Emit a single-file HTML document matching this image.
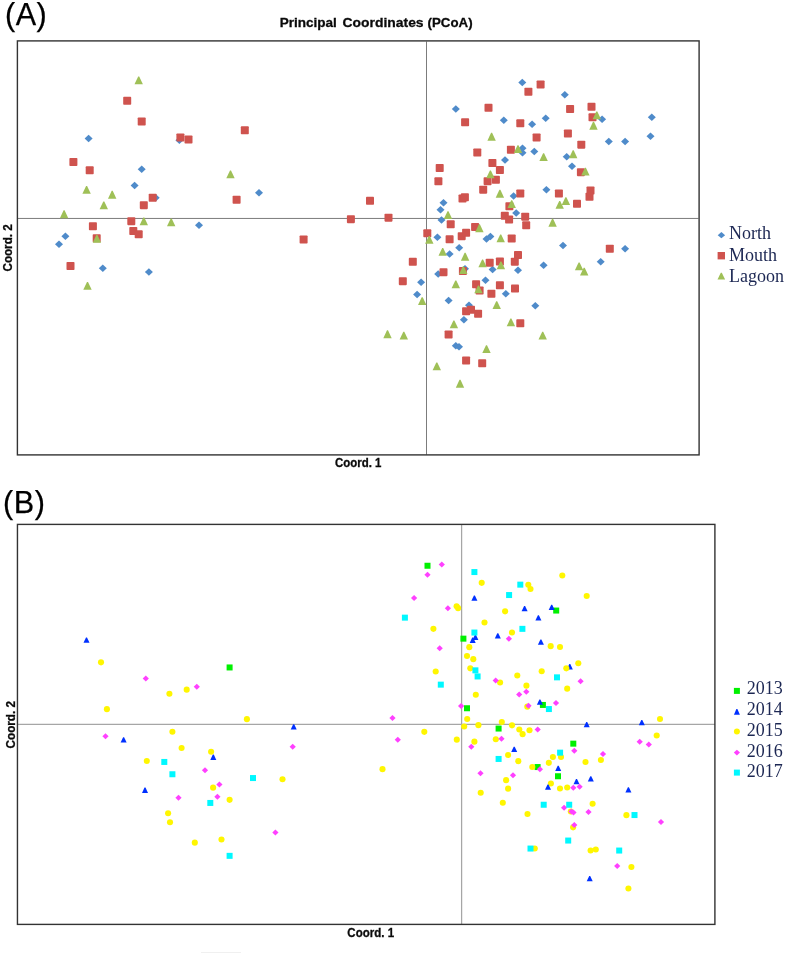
<!DOCTYPE html>
<html><head><meta charset="utf-8"><title>Principal Coordinates (PCoA)</title>
<style>
html,body{margin:0;padding:0;background:#fff;}
body{width:786px;height:955px;overflow:hidden;}
svg{display:block;}
.lab{font-family:"Liberation Sans",sans-serif;fill:#000;stroke:#000;stroke-width:0.25px;}
.b{font-family:"Liberation Sans",sans-serif;font-weight:bold;fill:#0a0a0a;stroke:#0a0a0a;stroke-width:0.3px;}
.leg{font-family:"Liberation Serif",serif;font-size:18px;fill:#1c2753;}
</style></head><body>
<svg width="786" height="955" viewBox="0 0 786 955">
<rect width="786" height="955" fill="#fff"/>
<text class="lab" x="5" y="24.8" font-size="30.6" letter-spacing="0.5">(A)</text>
<text class="b" y="27.3" font-size="13.6"><tspan x="279.7" textLength="57.2" lengthAdjust="spacingAndGlyphs">Principal</tspan> <tspan x="342.6" textLength="81" lengthAdjust="spacingAndGlyphs">Coordinates</tspan> <tspan x="427.6" textLength="45" lengthAdjust="spacingAndGlyphs">(PCoA)</tspan></text>
<line x1="18" x2="698.5" y1="218.45" y2="218.45" stroke="#7c7c7c" stroke-width="1"/>
<line x1="426.5" x2="426.5" y1="41.5" y2="454.7" stroke="#7c7c7c" stroke-width="1"/>
<g><path fill="#4f8bca" d="M84.6 138.55L88.6 134.8L92.6 138.55L88.6 142.3z"/><path fill="#4f8bca" d="M175.4 140.25L179.4 136.5L183.4 140.25L179.4 144z"/><path fill="#4f8bca" d="M137.7 169.25L141.7 165.5L145.7 169.25L141.7 173z"/><path fill="#4f8bca" d="M130.6 185.55L134.6 181.8L138.6 185.55L134.6 189.3z"/><path fill="#4f8bca" d="M151.7 197.75L155.7 194L159.7 197.75L155.7 201.5z"/><path fill="#4f8bca" d="M195 225.25L199 221.5L203 225.25L199 229z"/><path fill="#4f8bca" d="M61.4 236.15L65.4 232.4L69.4 236.15L65.4 239.9z"/><path fill="#4f8bca" d="M55 244.25L59 240.5L63 244.25L59 248z"/><path fill="#4f8bca" d="M98.8 268.25L102.8 264.5L106.8 268.25L102.8 272z"/><path fill="#4f8bca" d="M144.9 272.05L148.9 268.3L152.9 272.05L148.9 275.8z"/><path fill="#4f8bca" d="M255 192.65L259 188.9L263 192.65L259 196.4z"/><path fill="#4f8bca" d="M518.3 82.55L522.3 78.8L526.3 82.55L522.3 86.3z"/><path fill="#4f8bca" d="M451.8 109.05L455.8 105.3L459.8 109.05L455.8 112.8z"/><path fill="#4f8bca" d="M499.8 120.25L503.8 116.5L507.8 120.25L503.8 124z"/><path fill="#4f8bca" d="M528.1 124.15L532.1 120.4L536.1 124.15L532.1 127.9z"/><path fill="#4f8bca" d="M541.7 118.15L545.7 114.4L549.7 118.15L545.7 121.9z"/><path fill="#4f8bca" d="M518.5 148.35L522.5 144.6L526.5 148.35L522.5 152.1z"/><path fill="#4f8bca" d="M518.5 152.85L522.5 149.1L526.5 152.85L522.5 156.6z"/><path fill="#4f8bca" d="M530.3 151.55L534.3 147.8L538.3 151.55L534.3 155.3z"/><path fill="#4f8bca" d="M501 159.95L505 156.2L509 159.95L505 163.7z"/><path fill="#4f8bca" d="M509.6 195.95L513.6 192.2L517.6 195.95L513.6 199.7z"/><path fill="#4f8bca" d="M542.4 189.65L546.4 185.9L550.4 189.65L546.4 193.4z"/><path fill="#4f8bca" d="M439.5 202.65L443.5 198.9L447.5 202.65L443.5 206.4z"/><path fill="#4f8bca" d="M436.5 209.85L440.5 206.1L444.5 209.85L440.5 213.6z"/><path fill="#4f8bca" d="M560.8 94.65L564.8 90.9L568.8 94.65L564.8 98.4z"/><path fill="#4f8bca" d="M598.1 119.25L602.1 115.5L606.1 119.25L602.1 123z"/><path fill="#4f8bca" d="M647.8 117.15L651.8 113.4L655.8 117.15L651.8 120.9z"/><path fill="#4f8bca" d="M646.5 136.35L650.5 132.6L654.5 136.35L650.5 140.1z"/><path fill="#4f8bca" d="M604.8 141.45L608.8 137.7L612.8 141.45L608.8 145.2z"/><path fill="#4f8bca" d="M621.1 141.45L625.1 137.7L629.1 141.45L625.1 145.2z"/><path fill="#4f8bca" d="M562.7 156.85L566.7 153.1L570.7 156.85L566.7 160.6z"/><path fill="#4f8bca" d="M568 166.25L572 162.5L576 166.25L572 170z"/><path fill="#4f8bca" d="M437.5 220.05L441.5 216.3L445.5 220.05L441.5 223.8z"/><path fill="#4f8bca" d="M433.4 237.35L437.4 233.6L441.4 237.35L437.4 241.1z"/><path fill="#4f8bca" d="M482.5 239.05L486.5 235.3L490.5 239.05L486.5 242.8z"/><path fill="#4f8bca" d="M486.4 236.55L490.4 232.8L494.4 236.55L490.4 240.3z"/><path fill="#4f8bca" d="M512.2 212.95L516.2 209.2L520.2 212.95L516.2 216.7z"/><path fill="#4f8bca" d="M455.2 247.75L459.2 244L463.2 247.75L459.2 251.5z"/><path fill="#4f8bca" d="M445.6 254.05L449.6 250.3L453.6 254.05L449.6 257.8z"/><path fill="#4f8bca" d="M488.6 269.55L492.6 265.8L496.6 269.55L492.6 273.3z"/><path fill="#4f8bca" d="M514 270.35L518 266.6L522 270.35L518 274.1z"/><path fill="#4f8bca" d="M539.6 265.25L543.6 261.5L547.6 265.25L543.6 269z"/><path fill="#4f8bca" d="M461 268.75L465 265L469 268.75L465 272.5z"/><path fill="#4f8bca" d="M434.2 274.05L438.2 270.3L442.2 274.05L438.2 277.8z"/><path fill="#4f8bca" d="M417.1 282.35L421.1 278.6L425.1 282.35L421.1 286.1z"/><path fill="#4f8bca" d="M481.5 280.15L485.5 276.4L489.5 280.15L485.5 283.9z"/><path fill="#4f8bca" d="M501.8 293.75L505.8 290L509.8 293.75L505.8 297.5z"/><path fill="#4f8bca" d="M413.1 294.55L417.1 290.8L421.1 294.55L417.1 298.3z"/><path fill="#4f8bca" d="M444.6 300.45L448.6 296.7L452.6 300.45L448.6 304.2z"/><path fill="#4f8bca" d="M531.3 305.75L535.3 302L539.3 305.75L535.3 309.5z"/><path fill="#4f8bca" d="M465 305.35L469 301.6L473 305.35L469 309.1z"/><path fill="#4f8bca" d="M459.9 319.85L463.9 316.1L467.9 319.85L463.9 323.6z"/><path fill="#4f8bca" d="M451.8 345.65L455.8 341.9L459.8 345.65L455.8 349.4z"/><path fill="#4f8bca" d="M455 346.65L459 342.9L463 346.65L459 350.4z"/><path fill="#4f8bca" d="M559 245.55L563 241.8L567 245.55L563 249.3z"/><path fill="#4f8bca" d="M621.1 248.75L625.1 245L629.1 248.75L625.1 252.5z"/><path fill="#4f8bca" d="M596.7 261.85L600.7 258.1L604.7 261.85L600.7 265.6z"/></g>
<g><rect fill="#cf534e" x="123.2" y="96.85" width="8" height="8" rx="0.8"/><rect fill="#cf534e" x="137.7" y="117.45" width="8" height="8" rx="0.8"/><rect fill="#cf534e" x="176.4" y="133.45" width="8" height="8" rx="0.8"/><rect fill="#cf534e" x="184.5" y="135.45" width="8" height="8" rx="0.8"/><rect fill="#cf534e" x="69.4" y="158.05" width="8" height="8" rx="0.8"/><rect fill="#cf534e" x="85.7" y="166.35" width="8" height="8" rx="0.8"/><rect fill="#cf534e" x="148.7" y="193.75" width="8" height="8" rx="0.8"/><rect fill="#cf534e" x="139.8" y="201.15" width="8" height="8" rx="0.8"/><rect fill="#cf534e" x="127.3" y="217.15" width="8" height="8" rx="0.8"/><rect fill="#cf534e" x="88.9" y="222.25" width="8" height="8" rx="0.8"/><rect fill="#cf534e" x="129.3" y="227.05" width="8" height="8" rx="0.8"/><rect fill="#cf534e" x="134.7" y="230.35" width="8" height="8" rx="0.8"/><rect fill="#cf534e" x="92.7" y="234.25" width="8" height="8" rx="0.8"/><rect fill="#cf534e" x="66.5" y="261.95" width="8" height="8" rx="0.8"/><rect fill="#cf534e" x="240.8" y="126.35" width="8" height="8" rx="0.8"/><rect fill="#cf534e" x="232.6" y="195.75" width="8" height="8" rx="0.8"/><rect fill="#cf534e" x="366" y="196.85" width="8" height="8" rx="0.8"/><rect fill="#cf534e" x="346.9" y="215.15" width="8" height="8" rx="0.8"/><rect fill="#cf534e" x="384.5" y="213.65" width="8" height="8" rx="0.8"/><rect fill="#cf534e" x="299.6" y="235.45" width="8" height="8" rx="0.8"/><rect fill="#cf534e" x="536.6" y="80.45" width="8" height="8" rx="0.8"/><rect fill="#cf534e" x="524.4" y="87.75" width="8" height="8" rx="0.8"/><rect fill="#cf534e" x="484.5" y="103.85" width="8" height="8" rx="0.8"/><rect fill="#cf534e" x="461.1" y="118.25" width="8" height="8" rx="0.8"/><rect fill="#cf534e" x="516.3" y="119.35" width="8" height="8" rx="0.8"/><rect fill="#cf534e" x="532.6" y="133.55" width="8" height="8" rx="0.8"/><rect fill="#cf534e" x="506.9" y="145.75" width="8" height="8" rx="0.8"/><rect fill="#cf534e" x="473.3" y="148.45" width="8" height="8" rx="0.8"/><rect fill="#cf534e" x="488.4" y="158.95" width="8" height="8" rx="0.8"/><rect fill="#cf534e" x="435.7" y="164.05" width="8" height="8" rx="0.8"/><rect fill="#cf534e" x="495.9" y="165.95" width="8" height="8" rx="0.8"/><rect fill="#cf534e" x="434.4" y="177.35" width="8" height="8" rx="0.8"/><rect fill="#cf534e" x="483.6" y="177.15" width="8" height="8" rx="0.8"/><rect fill="#cf534e" x="491.9" y="175.85" width="8" height="8" rx="0.8"/><rect fill="#cf534e" x="479.2" y="185.65" width="8" height="8" rx="0.8"/><rect fill="#cf534e" x="516.3" y="189.55" width="8" height="8" rx="0.8"/><rect fill="#cf534e" x="458.5" y="194.45" width="8" height="8" rx="0.8"/><rect fill="#cf534e" x="460.9" y="193.35" width="8" height="8" rx="0.8"/><rect fill="#cf534e" x="505.4" y="202.25" width="8" height="8" rx="0.8"/><rect fill="#cf534e" x="566.1" y="105.05" width="8" height="8" rx="0.8"/><rect fill="#cf534e" x="587.5" y="102.85" width="8" height="8" rx="0.8"/><rect fill="#cf534e" x="588.5" y="113.35" width="8" height="8" rx="0.8"/><rect fill="#cf534e" x="563.9" y="129.45" width="8" height="8" rx="0.8"/><rect fill="#cf534e" x="577.3" y="140.65" width="8" height="8" rx="0.8"/><rect fill="#cf534e" x="576.9" y="168.15" width="8" height="8" rx="0.8"/><rect fill="#cf534e" x="554.9" y="189.55" width="8" height="8" rx="0.8"/><rect fill="#cf534e" x="586.5" y="186.45" width="8" height="8" rx="0.8"/><rect fill="#cf534e" x="585.5" y="192.75" width="8" height="8" rx="0.8"/><rect fill="#cf534e" x="573" y="199.85" width="8" height="8" rx="0.8"/><rect fill="#cf534e" x="446.7" y="220.35" width="8" height="8" rx="0.8"/><rect fill="#cf534e" x="423.3" y="229.35" width="8" height="8" rx="0.8"/><rect fill="#cf534e" x="445.6" y="235.25" width="8" height="8" rx="0.8"/><rect fill="#cf534e" x="457.7" y="232.15" width="8" height="8" rx="0.8"/><rect fill="#cf534e" x="462.1" y="228.75" width="8" height="8" rx="0.8"/><rect fill="#cf534e" x="471.1" y="223.05" width="8" height="8" rx="0.8"/><rect fill="#cf534e" x="507.7" y="234.45" width="8" height="8" rx="0.8"/><rect fill="#cf534e" x="500.8" y="211.85" width="8" height="8" rx="0.8"/><rect fill="#cf534e" x="505.1" y="215.45" width="8" height="8" rx="0.8"/><rect fill="#cf534e" x="521.2" y="212.65" width="8" height="8" rx="0.8"/><rect fill="#cf534e" x="522.2" y="221.35" width="8" height="8" rx="0.8"/><rect fill="#cf534e" x="408.8" y="257.85" width="8" height="8" rx="0.8"/><rect fill="#cf534e" x="485.7" y="258.65" width="8" height="8" rx="0.8"/><rect fill="#cf534e" x="495.9" y="257.45" width="8" height="8" rx="0.8"/><rect fill="#cf534e" x="514" y="251.05" width="8" height="8" rx="0.8"/><rect fill="#cf534e" x="510.8" y="257.65" width="8" height="8" rx="0.8"/><rect fill="#cf534e" x="458.9" y="266.95" width="8" height="8" rx="0.8"/><rect fill="#cf534e" x="439.5" y="268.15" width="8" height="8" rx="0.8"/><rect fill="#cf534e" x="398.8" y="277.15" width="8" height="8" rx="0.8"/><rect fill="#cf534e" x="472.1" y="280.25" width="8" height="8" rx="0.8"/><rect fill="#cf534e" x="495.9" y="281.25" width="8" height="8" rx="0.8"/><rect fill="#cf534e" x="475.6" y="286.55" width="8" height="8" rx="0.8"/><rect fill="#cf534e" x="487.4" y="289.75" width="8" height="8" rx="0.8"/><rect fill="#cf534e" x="511" y="284.45" width="8" height="8" rx="0.8"/><rect fill="#cf534e" x="462.1" y="307.25" width="8" height="8" rx="0.8"/><rect fill="#cf534e" x="467" y="305.65" width="8" height="8" rx="0.8"/><rect fill="#cf534e" x="474.1" y="309.75" width="8" height="8" rx="0.8"/><rect fill="#cf534e" x="516.3" y="319.25" width="8" height="8" rx="0.8"/><rect fill="#cf534e" x="444.6" y="330.45" width="8" height="8" rx="0.8"/><rect fill="#cf534e" x="462.1" y="356.45" width="8" height="8" rx="0.8"/><rect fill="#cf534e" x="478.2" y="359.25" width="8" height="8" rx="0.8"/><rect fill="#cf534e" x="605.8" y="244.75" width="8" height="8" rx="0.8"/></g>
<g><path fill="#9fc057" d="M134.5 84.35L138.2 76.55L139.2 76.55L142.9 84.35z"/><path fill="#9fc057" d="M82.4 193.75L86.1 185.95L87.1 185.95L90.8 193.75z"/><path fill="#9fc057" d="M108 198.65L111.7 190.85L112.7 190.85L116.4 198.65z"/><path fill="#9fc057" d="M99.6 209.25L103.3 201.45L104.3 201.45L108 209.25z"/><path fill="#9fc057" d="M59.9 218.15L63.6 210.35L64.6 210.35L68.3 218.15z"/><path fill="#9fc057" d="M139.6 225.35L143.3 217.55L144.3 217.55L148 225.35z"/><path fill="#9fc057" d="M167 226.35L170.7 218.55L171.7 218.55L175.4 226.35z"/><path fill="#9fc057" d="M92.7 242.65L96.4 234.85L97.4 234.85L101.1 242.65z"/><path fill="#9fc057" d="M83.3 289.75L87 281.95L88 281.95L91.7 289.75z"/><path fill="#9fc057" d="M226.3 178.25L230 170.45L231 170.45L234.7 178.25z"/><path fill="#9fc057" d="M383.3 338.15L387 330.35L388 330.35L391.7 338.15z"/><path fill="#9fc057" d="M487.4 140.65L491.1 132.85L492.1 132.85L495.8 140.65z"/><path fill="#9fc057" d="M513.8 153.05L517.5 145.25L518.5 145.25L522.2 153.05z"/><path fill="#9fc057" d="M539.4 161.05L543.1 153.25L544.1 153.25L547.8 161.05z"/><path fill="#9fc057" d="M486.2 178.25L489.9 170.45L490.9 170.45L494.6 178.25z"/><path fill="#9fc057" d="M495.7 197.65L499.4 189.85L500.4 189.85L504.1 197.65z"/><path fill="#9fc057" d="M507.5 207.95L511.2 200.15L512.2 200.15L515.9 207.95z"/><path fill="#9fc057" d="M592.6 119.25L596.3 111.45L597.3 111.45L601 119.25z"/><path fill="#9fc057" d="M589.3 129.65L593 121.85L594 121.85L597.7 129.65z"/><path fill="#9fc057" d="M569 158.15L572.7 150.35L573.7 150.35L577.4 158.15z"/><path fill="#9fc057" d="M581.2 175.45L584.9 167.65L585.9 167.65L589.6 175.45z"/><path fill="#9fc057" d="M561.7 204.95L565.4 197.15L566.4 197.15L570.1 204.95z"/><path fill="#9fc057" d="M555.5 208.75L559.2 200.95L560.2 200.95L563.9 208.75z"/><path fill="#9fc057" d="M443.8 219.05L447.5 211.25L448.5 211.25L452.2 219.05z"/><path fill="#9fc057" d="M425.1 243.75L428.8 235.95L429.8 235.95L433.5 243.75z"/><path fill="#9fc057" d="M475.2 232.15L478.9 224.35L479.9 224.35L483.6 232.15z"/><path fill="#9fc057" d="M496.5 242.35L500.2 234.55L501.2 234.55L504.9 242.35z"/><path fill="#9fc057" d="M548.4 226.65L552.1 218.85L553.1 218.85L556.8 226.65z"/><path fill="#9fc057" d="M438.5 255.75L442.2 247.95L443.2 247.95L446.9 255.75z"/><path fill="#9fc057" d="M460.9 260.65L464.6 252.85L465.6 252.85L469.3 260.65z"/><path fill="#9fc057" d="M478.4 267.35L482.1 259.55L483.1 259.55L486.8 267.35z"/><path fill="#9fc057" d="M496.7 269.35L500.4 261.55L501.4 261.55L505.1 269.35z"/><path fill="#9fc057" d="M459.1 274.05L462.8 266.25L463.8 266.25L467.5 274.05z"/><path fill="#9fc057" d="M451.6 288.35L455.3 280.55L456.3 280.55L460 288.35z"/><path fill="#9fc057" d="M474.3 293.35L478 285.55L479 285.55L482.7 293.35z"/><path fill="#9fc057" d="M418 305.05L421.7 297.25L422.7 297.25L426.4 305.05z"/><path fill="#9fc057" d="M492.5 309.05L496.2 301.25L497.2 301.25L500.9 309.05z"/><path fill="#9fc057" d="M449.7 328.25L453.4 320.45L454.4 320.45L458.1 328.25z"/><path fill="#9fc057" d="M506.7 326.35L510.4 318.55L511.4 318.55L515.1 326.35z"/><path fill="#9fc057" d="M399.6 339.45L403.3 331.65L404.3 331.65L408 339.45z"/><path fill="#9fc057" d="M538.5 339.55L542.2 331.75L543.2 331.75L546.9 339.55z"/><path fill="#9fc057" d="M482.3 353.05L486 345.25L487 345.25L490.7 353.05z"/><path fill="#9fc057" d="M432.6 370.35L436.3 362.55L437.3 362.55L441 370.35z"/><path fill="#9fc057" d="M455.8 387.65L459.5 379.85L460.5 379.85L464.2 387.65z"/><path fill="#9fc057" d="M574.9 270.35L578.6 262.55L579.6 262.55L583.3 270.35z"/><path fill="#9fc057" d="M580 275.45L583.7 267.65L584.7 267.65L588.4 275.45z"/></g>
<rect x="17.4" y="40.9" width="681.7" height="414" fill="none" stroke="#333" stroke-width="1.4"/>
<text class="b" font-size="12.2" textLength="46.4" lengthAdjust="spacingAndGlyphs" x="335" y="466.6">Coord. 1</text>
<text class="b" font-size="12.2" textLength="47" lengthAdjust="spacingAndGlyphs" transform="translate(12.1 271.4) rotate(-90)">Coord. 2</text>
<path fill="#4f8bca" d="M717.7 235.2L721.4 232.1L725.1 235.2L721.4 238.3z"/><rect fill="#cf534e" x="717.6" y="252" width="7.4" height="7.4" rx="0"/><path fill="#9fc057" d="M717.5 279.5L720.8 272.7L721.8 272.7L725.1 279.5z"/><text class="leg" x="729" y="238.7">North</text><text class="leg" x="729" y="260.9">Mouth</text><text class="leg" x="729" y="281.5">Lagoon</text>
<text class="lab" x="3" y="512.9" font-size="30.6" letter-spacing="0.6">(B)</text>
<line x1="18" x2="715" y1="724.3" y2="724.3" stroke="#a6a6a6" stroke-width="1.25"/>
<line x1="461.6" x2="461.6" y1="524.3" y2="924.3" stroke="#a6a6a6" stroke-width="1.25"/>
<g><rect fill="#00f000" x="226.6" y="664.45" width="6" height="6" rx="0"/><rect fill="#00f000" x="424.5" y="562.75" width="6" height="6" rx="0"/><rect fill="#00f000" x="460.4" y="635.65" width="6" height="6" rx="0"/><rect fill="#00f000" x="553.2" y="607.55" width="6" height="6" rx="0"/><rect fill="#00f000" x="464" y="705.25" width="6" height="6" rx="0"/><rect fill="#00f000" x="495.6" y="725.55" width="6" height="6" rx="0"/><rect fill="#00f000" x="539.9" y="701.95" width="6" height="6" rx="0"/><rect fill="#00f000" x="570.3" y="740.65" width="6" height="6" rx="0"/><rect fill="#00f000" x="534.6" y="764.05" width="6" height="6" rx="0"/><rect fill="#00f000" x="555" y="773.25" width="6" height="6" rx="0"/></g>
<g><path fill="#0030ff" d="M83.5 642.8L86 637.5L87 637.5L89.5 642.8z"/><path fill="#0030ff" d="M120.6 742.6L123.1 737.3L124.1 737.3L126.6 742.6z"/><path fill="#0030ff" d="M290.7 729.5L293.2 724.2L294.2 724.2L296.7 729.5z"/><path fill="#0030ff" d="M210.3 759.9L212.8 754.6L213.8 754.6L216.3 759.9z"/><path fill="#0030ff" d="M142 792.9L144.5 787.6L145.5 787.6L148 792.9z"/><path fill="#0030ff" d="M471.4 600.8L473.9 595.5L474.9 595.5L477.4 600.8z"/><path fill="#0030ff" d="M472.4 640.1L474.9 634.8L475.9 634.8L478.4 640.1z"/><path fill="#0030ff" d="M469.7 642.9L472.2 637.6L473.2 637.6L475.7 642.9z"/><path fill="#0030ff" d="M494.8 638.5L497.3 633.2L498.3 633.2L500.8 638.5z"/><path fill="#0030ff" d="M521.6 611.2L524.1 605.9L525.1 605.9L527.6 611.2z"/><path fill="#0030ff" d="M548.7 610.1L551.2 604.8L552.2 604.8L554.7 610.1z"/><path fill="#0030ff" d="M535.4 620.5L537.9 615.2L538.9 615.2L541.4 620.5z"/><path fill="#0030ff" d="M537.9 644.7L540.4 639.4L541.4 639.4L543.9 644.7z"/><path fill="#0030ff" d="M566.8 669.4L569.3 664.1L570.3 664.1L572.8 669.4z"/><path fill="#0030ff" d="M536.9 704.8L539.4 699.5L540.4 699.5L542.9 704.8z"/><path fill="#0030ff" d="M583.7 727.2L586.2 721.9L587.2 721.9L589.7 727.2z"/><path fill="#0030ff" d="M638.8 725.3L641.3 720L642.3 720L644.8 725.3z"/><path fill="#0030ff" d="M511.2 752L513.7 746.7L514.7 746.7L517.2 752z"/><path fill="#0030ff" d="M555.2 771L557.7 765.7L558.7 765.7L561.2 771z"/><path fill="#0030ff" d="M587.8 781.5L590.3 776.2L591.3 776.2L593.8 781.5z"/><path fill="#0030ff" d="M573.5 784.2L576 778.9L577 778.9L579.5 784.2z"/><path fill="#0030ff" d="M625.4 792.6L627.9 787.3L628.9 787.3L631.4 792.6z"/><path fill="#0030ff" d="M586.7 881.3L589.2 876L590.2 876L592.7 881.3z"/></g>
<g><circle fill="#fff600" cx="101" cy="662.35" r="3.05"/><circle fill="#fff600" cx="169.4" cy="693.75" r="3.05"/><circle fill="#fff600" cx="106.9" cy="709.15" r="3.05"/><circle fill="#fff600" cx="146.8" cy="761.05" r="3.05"/><circle fill="#fff600" cx="172.4" cy="731.75" r="3.05"/><circle fill="#fff600" cx="186.7" cy="689.65" r="3.05"/><circle fill="#fff600" cx="246.9" cy="719.15" r="3.05"/><circle fill="#fff600" cx="181.6" cy="748.05" r="3.05"/><circle fill="#fff600" cx="211.1" cy="751.75" r="3.05"/><circle fill="#fff600" cx="282.5" cy="779.25" r="3.05"/><circle fill="#fff600" cx="213.1" cy="787.65" r="3.05"/><circle fill="#fff600" cx="229.6" cy="799.85" r="3.05"/><circle fill="#fff600" cx="168.1" cy="813.25" r="3.05"/><circle fill="#fff600" cx="170" cy="822.25" r="3.05"/><circle fill="#fff600" cx="194.8" cy="842.65" r="3.05"/><circle fill="#fff600" cx="221.5" cy="839.55" r="3.05"/><circle fill="#fff600" cx="481.7" cy="582.85" r="3.05"/><circle fill="#fff600" cx="456.6" cy="606.25" r="3.05"/><circle fill="#fff600" cx="458.1" cy="608.15" r="3.05"/><circle fill="#fff600" cx="484.5" cy="622.55" r="3.05"/><circle fill="#fff600" cx="433.4" cy="628.85" r="3.05"/><circle fill="#fff600" cx="469.3" cy="647.15" r="3.05"/><circle fill="#fff600" cx="467" cy="655.95" r="3.05"/><circle fill="#fff600" cx="473.3" cy="659.15" r="3.05"/><circle fill="#fff600" cx="470.3" cy="668.35" r="3.05"/><circle fill="#fff600" cx="435.7" cy="671.45" r="3.05"/><circle fill="#fff600" cx="500.1" cy="682.45" r="3.05"/><circle fill="#fff600" cx="475.8" cy="694.75" r="3.05"/><circle fill="#fff600" cx="562.3" cy="575.55" r="3.05"/><circle fill="#fff600" cx="528.3" cy="584.85" r="3.05"/><circle fill="#fff600" cx="530.5" cy="588.95" r="3.05"/><circle fill="#fff600" cx="586.7" cy="596.05" r="3.05"/><circle fill="#fff600" cx="505.1" cy="611.35" r="3.05"/><circle fill="#fff600" cx="512" cy="632.55" r="3.05"/><circle fill="#fff600" cx="550.7" cy="646.15" r="3.05"/><circle fill="#fff600" cx="560" cy="646.95" r="3.05"/><circle fill="#fff600" cx="578.3" cy="663.25" r="3.05"/><circle fill="#fff600" cx="566.3" cy="668.35" r="3.05"/><circle fill="#fff600" cx="541.7" cy="671.25" r="3.05"/><circle fill="#fff600" cx="517.3" cy="675.45" r="3.05"/><circle fill="#fff600" cx="526.4" cy="685.65" r="3.05"/><circle fill="#fff600" cx="567.2" cy="688.65" r="3.05"/><circle fill="#fff600" cx="467.2" cy="719.05" r="3.05"/><circle fill="#fff600" cx="464.2" cy="726.55" r="3.05"/><circle fill="#fff600" cx="478.4" cy="725.15" r="3.05"/><circle fill="#fff600" cx="501.8" cy="722.05" r="3.05"/><circle fill="#fff600" cx="424.3" cy="731.85" r="3.05"/><circle fill="#fff600" cx="456.8" cy="739.65" r="3.05"/><circle fill="#fff600" cx="474.4" cy="741.65" r="3.05"/><circle fill="#fff600" cx="495.8" cy="739.25" r="3.05"/><circle fill="#fff600" cx="382.5" cy="769.15" r="3.05"/><circle fill="#fff600" cx="480.7" cy="792.75" r="3.05"/><circle fill="#fff600" cx="502.8" cy="802.75" r="3.05"/><circle fill="#fff600" cx="527.3" cy="706.65" r="3.05"/><circle fill="#fff600" cx="512" cy="725.35" r="3.05"/><circle fill="#fff600" cx="519.3" cy="729.45" r="3.05"/><circle fill="#fff600" cx="529.5" cy="730.25" r="3.05"/><circle fill="#fff600" cx="522.6" cy="734.15" r="3.05"/><circle fill="#fff600" cx="508.1" cy="755.05" r="3.05"/><circle fill="#fff600" cx="552.9" cy="756.95" r="3.05"/><circle fill="#fff600" cx="561" cy="756.95" r="3.05"/><circle fill="#fff600" cx="518.3" cy="761.15" r="3.05"/><circle fill="#fff600" cx="548.8" cy="762.85" r="3.05"/><circle fill="#fff600" cx="585.5" cy="761.95" r="3.05"/><circle fill="#fff600" cx="600.9" cy="759.95" r="3.05"/><circle fill="#fff600" cx="532.3" cy="767.05" r="3.05"/><circle fill="#fff600" cx="506.1" cy="780.15" r="3.05"/><circle fill="#fff600" cx="550.9" cy="783.55" r="3.05"/><circle fill="#fff600" cx="508.1" cy="788.65" r="3.05"/><circle fill="#fff600" cx="560" cy="788.45" r="3.05"/><circle fill="#fff600" cx="567.2" cy="787.45" r="3.05"/><circle fill="#fff600" cx="592.6" cy="803.75" r="3.05"/><circle fill="#fff600" cx="570.8" cy="811.45" r="3.05"/><circle fill="#fff600" cx="527.5" cy="813.95" r="3.05"/><circle fill="#fff600" cx="626.4" cy="815.15" r="3.05"/><circle fill="#fff600" cx="573.1" cy="827.35" r="3.05"/><circle fill="#fff600" cx="534.8" cy="848.55" r="3.05"/><circle fill="#fff600" cx="590.6" cy="850.45" r="3.05"/><circle fill="#fff600" cx="595.8" cy="849.45" r="3.05"/><circle fill="#fff600" cx="631.4" cy="867.05" r="3.05"/><circle fill="#fff600" cx="628.4" cy="888.45" r="3.05"/><circle fill="#fff600" cx="660" cy="719.05" r="3.05"/><circle fill="#fff600" cx="656.7" cy="735.55" r="3.05"/><path fill="#0030ff" d="M545 789.7L547.5 784.4L548.5 784.4L551 789.7z"/></g>
<g><path fill="#ff40ff" d="M142.7 678.45L145.8 675.45L148.9 678.45L145.8 681.45z"/><path fill="#ff40ff" d="M102.4 736.25L105.5 733.25L108.6 736.25L105.5 739.25z"/><path fill="#ff40ff" d="M193.7 686.75L196.8 683.75L199.9 686.75L196.8 689.75z"/><path fill="#ff40ff" d="M289.6 746.85L292.7 743.85L295.8 746.85L292.7 749.85z"/><path fill="#ff40ff" d="M201.9 770.25L205 767.25L208.1 770.25L205 773.25z"/><path fill="#ff40ff" d="M216.3 784.55L219.4 781.55L222.5 784.55L219.4 787.55z"/><path fill="#ff40ff" d="M175.4 797.65L178.5 794.65L181.6 797.65L178.5 800.65z"/><path fill="#ff40ff" d="M214.3 796.85L217.4 793.85L220.5 796.85L217.4 799.85z"/><path fill="#ff40ff" d="M272.3 832.45L275.4 829.45L278.5 832.45L275.4 835.45z"/><path fill="#ff40ff" d="M438.7 564.55L441.8 561.55L444.9 564.55L441.8 567.55z"/><path fill="#ff40ff" d="M424.4 574.75L427.5 571.75L430.6 574.75L427.5 577.75z"/><path fill="#ff40ff" d="M411 597.95L414.1 594.95L417.2 597.95L414.1 600.95z"/><path fill="#ff40ff" d="M444.8 608.35L447.9 605.35L451 608.35L447.9 611.35z"/><path fill="#ff40ff" d="M436.6 648.25L439.7 645.25L442.8 648.25L439.7 651.25z"/><path fill="#ff40ff" d="M492.6 680.45L495.7 677.45L498.8 680.45L495.7 683.45z"/><path fill="#ff40ff" d="M505.8 638.65L508.9 635.65L512 638.65L508.9 641.65z"/><path fill="#ff40ff" d="M577.5 681.35L580.6 678.35L583.7 681.35L580.6 684.35z"/><path fill="#ff40ff" d="M523.2 691.85L526.3 688.85L529.4 691.85L526.3 694.85z"/><path fill="#ff40ff" d="M516.1 694.45L519.2 691.45L522.3 694.45L519.2 697.45z"/><path fill="#ff40ff" d="M458 706.05L461.1 703.05L464.2 706.05L461.1 709.05z"/><path fill="#ff40ff" d="M389.4 718.05L392.5 715.05L395.6 718.05L392.5 721.05z"/><path fill="#ff40ff" d="M394.7 739.65L397.8 736.65L400.9 739.65L397.8 742.65z"/><path fill="#ff40ff" d="M498.4 738.65L501.5 735.65L504.6 738.65L501.5 741.65z"/><path fill="#ff40ff" d="M468.2 746.75L471.3 743.75L474.4 746.75L471.3 749.75z"/><path fill="#ff40ff" d="M477.4 773.15L480.5 770.15L483.6 773.15L480.5 776.15z"/><path fill="#ff40ff" d="M552.9 702.95L556 699.95L559.1 702.95L556 705.95z"/><path fill="#ff40ff" d="M525.4 705.85L528.5 702.85L531.6 705.85L528.5 708.85z"/><path fill="#ff40ff" d="M534.6 729.55L537.7 726.55L540.8 729.55L537.7 732.55z"/><path fill="#ff40ff" d="M636.6 741.65L639.7 738.65L642.8 741.65L639.7 744.65z"/><path fill="#ff40ff" d="M645.7 744.55L648.8 741.55L651.9 744.55L648.8 747.55z"/><path fill="#ff40ff" d="M571.2 750.85L574.3 747.85L577.4 750.85L574.3 753.85z"/><path fill="#ff40ff" d="M599.9 754.05L603 751.05L606.1 754.05L603 757.05z"/><path fill="#ff40ff" d="M536.8 769.35L539.9 766.35L543 769.35L539.9 772.35z"/><path fill="#ff40ff" d="M509.9 775.25L513 772.25L516.1 775.25L513 778.25z"/><path fill="#ff40ff" d="M570.2 787.65L573.3 784.65L576.4 787.65L573.3 790.65z"/><path fill="#ff40ff" d="M576.5 786.65L579.6 783.65L582.7 786.65L579.6 789.65z"/><path fill="#ff40ff" d="M561 807.75L564.1 804.75L567.2 807.75L564.1 810.75z"/><path fill="#ff40ff" d="M568.3 811.45L571.4 808.45L574.5 811.45L571.4 814.45z"/><path fill="#ff40ff" d="M570.4 812.45L573.5 809.45L576.6 812.45L573.5 815.45z"/><path fill="#ff40ff" d="M585.4 812.05L588.5 809.05L591.6 812.05L588.5 815.05z"/><path fill="#ff40ff" d="M571.2 825.05L574.3 822.05L577.4 825.05L574.3 828.05z"/><path fill="#ff40ff" d="M614.1 866.05L617.2 863.05L620.3 866.05L617.2 869.05z"/><path fill="#ff40ff" d="M657.9 822.05L661 819.05L664.1 822.05L661 825.05z"/></g>
<g><rect fill="#00f8ff" x="161.3" y="758.95" width="6" height="6" rx="0"/><rect fill="#00f8ff" x="169.4" y="771.25" width="6" height="6" rx="0"/><rect fill="#00f8ff" x="250" y="775.05" width="6" height="6" rx="0"/><rect fill="#00f8ff" x="207.3" y="799.95" width="6" height="6" rx="0"/><rect fill="#00f8ff" x="226.6" y="852.85" width="6" height="6" rx="0"/><rect fill="#00f8ff" x="471.4" y="569.05" width="6" height="6" rx="0"/><rect fill="#00f8ff" x="401.9" y="614.65" width="6" height="6" rx="0"/><rect fill="#00f8ff" x="471.4" y="629.55" width="6" height="6" rx="0"/><rect fill="#00f8ff" x="472.4" y="667.35" width="6" height="6" rx="0"/><rect fill="#00f8ff" x="474.6" y="673.45" width="6" height="6" rx="0"/><rect fill="#00f8ff" x="437.8" y="681.65" width="6" height="6" rx="0"/><rect fill="#00f8ff" x="517.3" y="581.65" width="6" height="6" rx="0"/><rect fill="#00f8ff" x="506.1" y="592.05" width="6" height="6" rx="0"/><rect fill="#00f8ff" x="519.4" y="625.85" width="6" height="6" rx="0"/><rect fill="#00f8ff" x="554" y="674.35" width="6" height="6" rx="0"/><rect fill="#00f8ff" x="545.9" y="706.05" width="6" height="6" rx="0"/><rect fill="#00f8ff" x="557.1" y="749.65" width="6" height="6" rx="0"/><rect fill="#00f8ff" x="495.6" y="755.95" width="6" height="6" rx="0"/><rect fill="#00f8ff" x="540.7" y="801.75" width="6" height="6" rx="0"/><rect fill="#00f8ff" x="566.2" y="801.75" width="6" height="6" rx="0"/><rect fill="#00f8ff" x="631.5" y="812.05" width="6" height="6" rx="0"/><rect fill="#00f8ff" x="565.2" y="837.55" width="6" height="6" rx="0"/><rect fill="#00f8ff" x="527.5" y="845.55" width="6" height="6" rx="0"/><rect fill="#00f8ff" x="616.2" y="847.55" width="6" height="6" rx="0"/></g>
<rect x="17.45" y="524.4" width="697.45" height="400" fill="none" stroke="#333" stroke-width="1.4"/>
<text class="b" font-size="12.2" textLength="46.8" lengthAdjust="spacingAndGlyphs" x="347.3" y="936.9">Coord. 1</text>
<text class="b" font-size="12.2" textLength="47.4" lengthAdjust="spacingAndGlyphs" transform="translate(14.8 748.4) rotate(-90)">Coord. 2</text>
<rect fill="#00f000" x="733.9" y="687.9" width="6" height="6" rx="0"/><path fill="#0030ff" d="M733.9 714.7L736.4 709.1L737.4 709.1L739.9 714.7z"/><circle fill="#fff600" cx="736.9" cy="731.5" r="3.0"/><path fill="#ff40ff" d="M733.8 752.6L736.9 749.7L740 752.6L736.9 755.5z"/><rect fill="#00f8ff" x="733.9" y="769.6" width="6" height="6" rx="0"/><text class="leg" x="746.7" y="693.8">2013</text><text class="leg" x="746.7" y="715.4">2014</text><text class="leg" x="746.7" y="736">2015</text><text class="leg" x="746.7" y="757.2">2016</text><text class="leg" x="746.7" y="777.2">2017</text>
<line x1="201" x2="241" y1="952.5" y2="952.5" stroke="#f0f0f0" stroke-width="1.2"/>
</svg>
</body></html>
